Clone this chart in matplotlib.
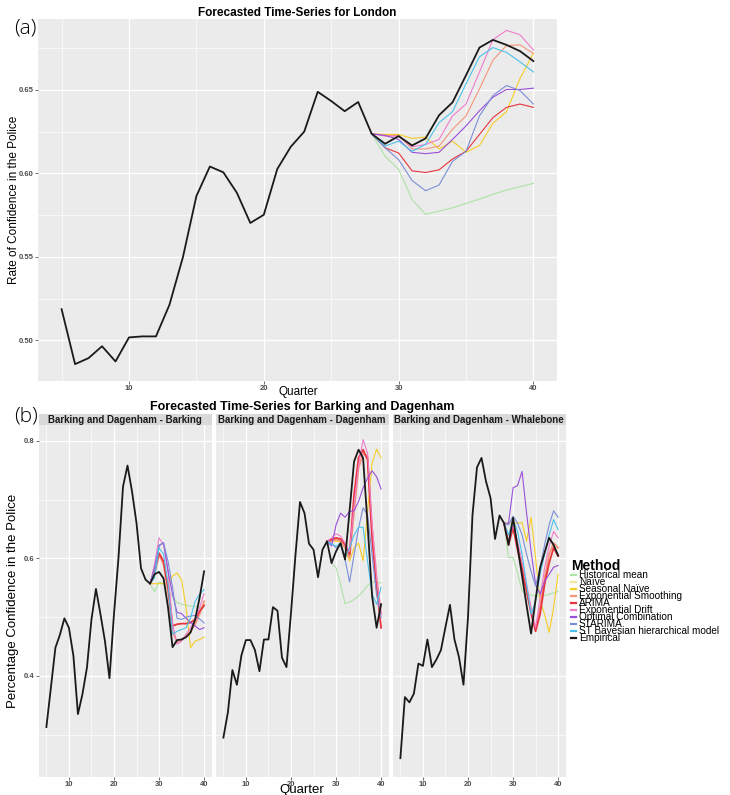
import matplotlib
matplotlib.use("Agg")
import matplotlib.pyplot as plt
from matplotlib.lines import Line2D
import numpy as np

plt.rcParams['font.family'] = ['Liberation Sans', 'DejaVu Sans']

# ---------------- data ----------------
methods = ["Historical mean", "Naïve", "Seasonal Naïve", "Exponential Smoothing", "ARIMA",
           "Exponential Drift", "Optimal Combination", "STARIMA",
           "ST Bayesian hierarchical model", "Empirical"]
method_colors = ["#ade3a6", "#f4e39a", "#f5cd27", "#f5957c", "#e8343c",
                 "#ef7ccb", "#9a4fd8", "#7b8ed6", "#4cc2ea", "#1a1a1a"]

quarters = list(range(5, 41))
fc_quarters = list(range(28, 41))

# London
london_empirical = [0.5187, 0.4858, 0.4894, 0.4965, 0.4874, 0.5018, 0.5024, 0.5024, 0.5213, 0.5498,
                    0.5864, 0.6041, 0.6006, 0.5884, 0.5703, 0.5752, 0.6026, 0.6159, 0.6250, 0.6488,
                    0.6433, 0.6372, 0.6427, 0.6237, 0.6177, 0.6223, 0.6167, 0.6209, 0.6348, 0.6425,
                    0.6587, 0.6753, 0.6799, 0.6769, 0.6732, 0.6672]
london_hist_mean = [0.6237, 0.6102, 0.6025, 0.5843, 0.5755, 0.5774, 0.5794, 0.5820, 0.5846, 0.5874, 0.5900, 0.5920, 0.5940]
london_seasonal_naive = [0.6237, 0.6233, 0.6233, 0.6209, 0.6217, 0.6146, 0.6193, 0.6126, 0.6167, 0.6300, 0.6369, 0.6567, 0.6718]
london_exp_smoothing = [0.6237, 0.6227, 0.6227, 0.6146, 0.6146, 0.6163, 0.6264, 0.6344, 0.6506, 0.6678, 0.6765, 0.6769, 0.6718]
london_arima = [0.6237, 0.6153, 0.6122, 0.6015, 0.6005, 0.6021, 0.6086, 0.6132, 0.6233, 0.6334, 0.6395, 0.6415, 0.6395]
london_exp_drift = [0.6237, 0.6223, 0.6223, 0.6159, 0.6173, 0.6203, 0.6344, 0.6415, 0.6607, 0.6800, 0.6856, 0.6830, 0.6738]
london_opt_comb = [0.6237, 0.6227, 0.6203, 0.6126, 0.6118, 0.6126, 0.6203, 0.6284, 0.6375, 0.6456, 0.6502, 0.6502, 0.6510]
london_starima = [0.6237, 0.6153, 0.6082, 0.5957, 0.5896, 0.5930, 0.6072, 0.6132, 0.6344, 0.6466, 0.6526, 0.6496, 0.6415]
london_st_bayes = [0.6237, 0.6163, 0.6193, 0.6132, 0.6173, 0.6304, 0.6369, 0.6536, 0.6698, 0.6753, 0.6724, 0.6668, 0.6607]

# Barking and Dagenham wards
ward_names = ["Barking and Dagenham - Barking", "Barking and Dagenham - Dagenham",
              "Barking and Dagenham - Whalebone"]
barking_empirical = [0.313, 0.380, 0.448, 0.470, 0.498, 0.482, 0.434, 0.335, 0.369, 0.414,
                     0.496, 0.548, 0.505, 0.459, 0.396, 0.505, 0.601, 0.722, 0.758, 0.714,
                     0.660, 0.583, 0.564, 0.557, 0.573, 0.577, 0.566, 0.516, 0.449, 0.461,
                     0.462, 0.466, 0.474, 0.496, 0.533, 0.578]
dagenham_empirical = [0.295, 0.338, 0.410, 0.385, 0.435, 0.461, 0.461, 0.444, 0.408, 0.462,
                      0.462, 0.517, 0.511, 0.431, 0.415, 0.507, 0.606, 0.696, 0.677, 0.625,
                      0.615, 0.568, 0.615, 0.629, 0.592, 0.612, 0.626, 0.598, 0.681, 0.765,
                      0.785, 0.771, 0.657, 0.536, 0.482, 0.522]
whalebone_empirical = [0.260, 0.364, 0.355, 0.370, 0.421, 0.417, 0.462, 0.415, 0.428, 0.444,
                       0.483, 0.521, 0.462, 0.432, 0.385, 0.499, 0.674, 0.755, 0.771, 0.731,
                       0.703, 0.633, 0.673, 0.660, 0.623, 0.669, 0.620, 0.570, 0.520, 0.472,
                       0.530, 0.584, 0.610, 0.635, 0.623, 0.605]

barking_hist_mean = [0.557, 0.543, 0.560, 0.557, 0.545, 0.535, 0.525, 0.522, 0.520, 0.519, 0.518, 0.517, 0.516]
barking_seasonal_naive = [0.557, 0.557, 0.557, 0.557, 0.557, 0.570, 0.575, 0.564, 0.516, 0.448, 0.459, 0.462, 0.466]
barking_exp_smoothing = [0.557, 0.573, 0.606, 0.590, 0.544, 0.476, 0.457, 0.462, 0.468, 0.476, 0.488, 0.505, 0.527]
barking_arima = [0.557, 0.578, 0.609, 0.595, 0.550, 0.485, 0.488, 0.489, 0.489, 0.491, 0.496, 0.510, 0.520]
barking_exp_drift = [0.557, 0.590, 0.635, 0.623, 0.578, 0.488, 0.454, 0.459, 0.471, 0.482, 0.496, 0.516, 0.540]
barking_opt_comb = [0.557, 0.584, 0.621, 0.627, 0.578, 0.539, 0.508, 0.506, 0.498, 0.491, 0.485, 0.479, 0.482]
barking_starima = [0.557, 0.580, 0.623, 0.626, 0.595, 0.550, 0.498, 0.496, 0.500, 0.502, 0.503, 0.497, 0.490]
barking_st_bayes = [0.557, 0.567, 0.618, 0.607, 0.556, 0.471, 0.476, 0.479, 0.482, 0.499, 0.527, 0.539, 0.547]

dagenham_hist_mean = [0.629, 0.592, 0.584, 0.556, 0.523, 0.526, 0.530, 0.536, 0.544, 0.554, 0.560, 0.560, 0.558]
dagenham_seasonal_naive = [0.629, 0.630, 0.629, 0.629, 0.618, 0.595, 0.618, 0.626, 0.596, 0.680, 0.762, 0.786, 0.771]
dagenham_exp_smoothing = [0.629, 0.630, 0.632, 0.630, 0.618, 0.601, 0.680, 0.754, 0.779, 0.773, 0.652, 0.567, 0.505]
dagenham_arima = [0.629, 0.632, 0.635, 0.633, 0.624, 0.607, 0.708, 0.771, 0.785, 0.768, 0.635, 0.550, 0.482]
dagenham_exp_drift = [0.629, 0.635, 0.642, 0.638, 0.626, 0.612, 0.691, 0.759, 0.802, 0.779, 0.657, 0.567, 0.505]
dagenham_opt_comb = [0.629, 0.621, 0.657, 0.677, 0.670, 0.680, 0.681, 0.697, 0.720, 0.737, 0.749, 0.739, 0.718]
dagenham_starima = [0.629, 0.626, 0.618, 0.624, 0.598, 0.560, 0.606, 0.652, 0.686, 0.674, 0.606, 0.539, 0.499]
dagenham_st_bayes = [0.629, 0.624, 0.621, 0.626, 0.601, 0.618, 0.640, 0.653, 0.653, 0.595, 0.539, 0.522, 0.551]

whalebone_hist_mean = [0.660, 0.601, 0.602, 0.575, 0.545, 0.538, 0.538, 0.536, 0.536, 0.537, 0.539, 0.541, 0.544]
whalebone_seasonal_naive = [0.660, 0.660, 0.660, 0.660, 0.661, 0.629, 0.670, 0.601, 0.527, 0.505, 0.474, 0.516, 0.573]
whalebone_exp_smoothing = [0.660, 0.629, 0.655, 0.623, 0.587, 0.550, 0.510, 0.479, 0.516, 0.567, 0.607, 0.626, 0.618]
whalebone_arima = [0.660, 0.623, 0.652, 0.615, 0.581, 0.544, 0.507, 0.476, 0.505, 0.556, 0.592, 0.618, 0.604]
whalebone_exp_drift = [0.660, 0.626, 0.657, 0.629, 0.595, 0.556, 0.516, 0.482, 0.533, 0.584, 0.621, 0.646, 0.635]
whalebone_opt_comb = [0.660, 0.660, 0.720, 0.724, 0.748, 0.677, 0.612, 0.556, 0.539, 0.561, 0.573, 0.585, 0.588]
whalebone_starima = [0.660, 0.657, 0.672, 0.660, 0.640, 0.607, 0.578, 0.553, 0.584, 0.623, 0.657, 0.681, 0.670]
whalebone_st_bayes = [0.660, 0.640, 0.666, 0.646, 0.607, 0.556, 0.505, 0.527, 0.573, 0.607, 0.640, 0.666, 0.649]

top_xticks = [10, 20, 30, 40]
top_yticks = [0.50, 0.55, 0.60, 0.65]
bot_yticks = [0.4, 0.6, 0.8]

# ---------------- helpers ----------------
color_of = dict(zip(methods, method_colors))
W, H = 730, 795
PANEL = "#ebebeb"
TICKC = "#4d4d4d"


def fr(x0, y0, x1, y1):
    return [x0 / W, 1 - y1 / H, (x1 - x0) / W, (y1 - y0) / H]


def style_ax(ax, xticks, yticks, ylim, yfmt, show_y=True):
    ax.set_facecolor(PANEL)
    for s in ax.spines.values():
        s.set_visible(False)
    ax.set_xlim(3.25, 41.75)
    ax.set_ylim(*ylim)
    ax.set_xticks(xticks)
    ax.set_xticks([5, 15, 25, 35], minor=True)
    ax.set_yticks(yticks)
    step = yticks[1] - yticks[0]
    minors = [v for v in np.arange(yticks[0] - step / 2, ylim[1], step) if ylim[0] < v < ylim[1]]
    ax.set_yticks(minors, minor=True)
    ax.grid(True, which="major", color="white", lw=0.9)
    ax.grid(True, which="minor", color="white", lw=0.45)
    ax.set_axisbelow(True)
    ax.tick_params(which="major", length=2, width=0.5, color="#333333", labelsize=5.5,
                   labelcolor=TICKC, pad=1.2)
    ax.tick_params(which="minor", length=0)
    ax.set_xticklabels([str(t) for t in xticks], fontweight="bold")
    if show_y:
        ax.set_yticklabels([yfmt.format(t) for t in yticks], fontweight="bold")
    else:
        ax.tick_params(axis="y", which="major", length=0, labelleft=False)


fig = plt.figure(figsize=(W / 100, H / 100), dpi=100)
fig.patch.set_facecolor("white")

# ---------------- (a) London ----------------
ax = fig.add_axes(fr(38, 19, 557, 381))
style_ax(ax, top_xticks, top_yticks, (0.4757, 0.6924), "{:.2f}")
london_fc = [("Historical mean", london_hist_mean), ("Seasonal Naïve", london_seasonal_naive),
             ("Exponential Smoothing", london_exp_smoothing), ("ARIMA", london_arima),
             ("Exponential Drift", london_exp_drift), ("Optimal Combination", london_opt_comb),
             ("STARIMA", london_starima), ("ST Bayesian hierarchical model", london_st_bayes)]
for name, vals in london_fc:
    ax.plot(fc_quarters, vals, color=color_of[name], lw=0.8)
ax.plot(quarters, london_empirical, color=color_of["Empirical"], lw=1.3)
fig.text(14 / W, 1 - 200 / H, "Rate of Confidence in the Police", rotation=90,
         ha="center", va="center", fontsize=8.5)
fig.text(298 / W, 1 - 392 / H, "Quarter", ha="center", va="center", fontsize=8.5)
ax.set_title("Forecasted Time-Series for London", fontsize=8.5, fontweight="bold",
             family=["Liberation Sans Narrow", "Liberation Sans"], pad=2)
fig.text(14 / W, 1 - 28 / H, "(a)", fontsize=15, va="center", ha="left",
         family=["Open Sans", "DejaVu Sans"], fontweight="light")

# ---------------- (b) Barking and Dagenham ----------------
ward_empirical = [barking_empirical, dagenham_empirical, whalebone_empirical]
ward_fc = [
    [barking_hist_mean, barking_seasonal_naive, barking_exp_smoothing, barking_arima,
     barking_exp_drift, barking_opt_comb, barking_starima, barking_st_bayes],
    [dagenham_hist_mean, dagenham_seasonal_naive, dagenham_exp_smoothing, dagenham_arima,
     dagenham_exp_drift, dagenham_opt_comb, dagenham_starima, dagenham_st_bayes],
    [whalebone_hist_mean, whalebone_seasonal_naive, whalebone_exp_smoothing, whalebone_arima,
     whalebone_exp_drift, whalebone_opt_comb, whalebone_starima, whalebone_st_bayes],
]
fc_names = ["Historical mean", "Seasonal Naïve", "Exponential Smoothing", "ARIMA",
            "Exponential Drift", "Optimal Combination", "STARIMA", "ST Bayesian hierarchical model"]
facet_x = [(38.5, 212), (215.5, 389), (392.5, 566)]
bot_axes = []
for i, (x0, x1) in enumerate(facet_x):
    a = fig.add_axes(fr(x0, 425, x1, 777))
    style_ax(a, top_xticks, bot_yticks, (0.228, 0.827), "{:.1f}", show_y=(i == 0))
    for name, vals in zip(fc_names, ward_fc[i]):
        lw = 1.3 if name in ("ARIMA", "Exponential Smoothing") else 0.8
        a.plot(fc_quarters, vals, color=color_of[name], lw=lw)
    a.plot(quarters, ward_empirical[i], color=color_of["Empirical"], lw=1.3)
    bot_axes.append(a)
    s = fig.add_axes(fr(x0, 414, x1, 425))
    s.set_facecolor("#d9d9d9")
    s.set_xticks([]); s.set_yticks([])
    for sp in s.spines.values():
        sp.set_visible(False)
    s.text(0.5, 0.45, ward_names[i], transform=s.transAxes, ha="center", va="center",
           fontsize=7, fontweight="bold", color="#1a1a1a")

fig.text(302 / W, 1 - 407 / H, "Forecasted Time-Series for Barking and Dagenham",
         ha="center", va="center", fontsize=9, fontweight="bold",
         family=["Liberation Sans Narrow", "Liberation Sans"])
fig.text(14 / W, 1 - 416 / H, "(b)", fontsize=15, va="center", ha="left",
         family=["Open Sans", "DejaVu Sans"], fontweight="light")
fig.text(13 / W, 1 - 601 / H, "Percentage Confidence in the Police", rotation=90,
         ha="center", va="center", fontsize=9.5)
fig.text(302 / W, 1 - 790 / H, "Quarter", ha="center", va="center", fontsize=9.5)

handles = [Line2D([], [], color=c, lw=1.6) for c in method_colors]
leg = fig.legend(handles, methods, loc="upper left", bbox_to_anchor=(571 / W, 1 - 559 / H),
                 frameon=False, fontsize=7.2, title="Method",
                 title_fontproperties={"weight": "bold", "size": 10},
                 handlelength=0.5, handletextpad=0.3, labelspacing=-0.3,
                 borderpad=0, borderaxespad=0)
leg._legend_box.align = "left"

fig.savefig("out.png", dpi=100)
